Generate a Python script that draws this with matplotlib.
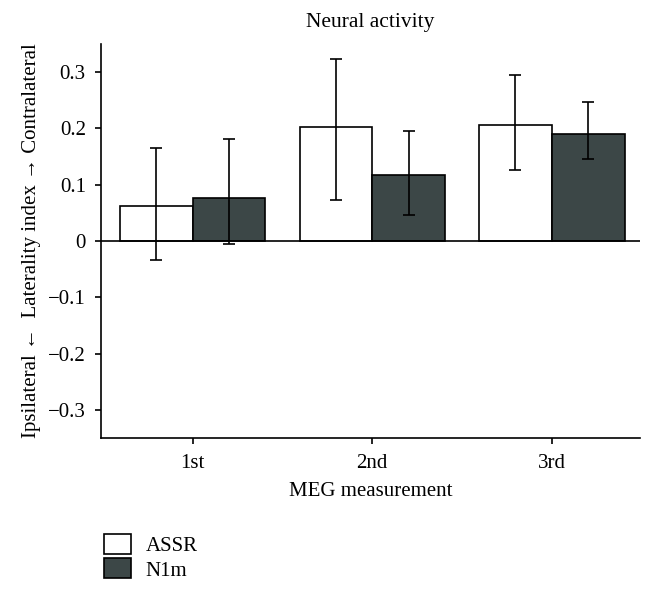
import numpy as np
import matplotlib
matplotlib.use("Agg")
import matplotlib.pyplot as plt

categories = ["1st", "2nd", "3rd"]
assr = [0.062, 0.202, 0.206]
assr_lo = [-0.033, 0.073, 0.127]
assr_hi = [0.165, 0.323, 0.295]
n1m = [0.076, 0.118, 0.190]
n1m_lo = [-0.005, 0.047, 0.145]
n1m_hi = [0.181, 0.196, 0.247]

plt.rcParams['font.family'] = ['Liberation Serif', 'DejaVu Serif']
plt.rcParams['font.size'] = 15

fig = plt.figure(figsize=(6.61, 5.93), dpi=100)
ax = fig.add_axes([0.153, 0.261, 0.815, 0.665])

x = np.arange(len(categories))
w = 0.405
dark = '#3c4747'

a = np.array(assr)
n = np.array(n1m)
ax.bar(x - w/2, a, w, color='white', edgecolor='black', linewidth=1.2, label='ASSR', zorder=2)
ax.bar(x + w/2, n, w, color=dark, edgecolor='black', linewidth=1.2, label='N1m', zorder=2)
ax.errorbar(x - w/2, a, yerr=[a - np.array(assr_lo), np.array(assr_hi) - a],
            fmt='none', ecolor='black', elinewidth=1.2, capsize=4, capthick=1.2, zorder=3)
ax.errorbar(x + w/2, n, yerr=[n - np.array(n1m_lo), np.array(n1m_hi) - n],
            fmt='none', ecolor='black', elinewidth=1.2, capsize=4, capthick=1.2, zorder=3)

ax.axhline(0, color='black', linewidth=1.2, zorder=4)

ax.set_xlim(-0.51, 2.49)
ax.set_ylim(-0.35, 0.35)
ax.set_yticks([-0.3, -0.2, -0.1, 0, 0.1, 0.2, 0.3])
ax.set_yticklabels(['\u22120.3', '\u22120.2', '\u22120.1', '0', '0.1', '0.2', '0.3'])
ax.set_xticks(x)
ax.set_xticklabels(categories)
ax.tick_params(direction='out', length=4, width=1.2, pad=7)

for s in ['top', 'right']:
    ax.spines[s].set_visible(False)
for s in ['left', 'bottom']:
    ax.spines[s].set_linewidth(1.2)

ax.set_title('Neural activity', fontsize=15.5, pad=12)
ax.set_xlabel('MEG measurement', labelpad=7)
ax.set_ylabel('Ipsilateral \u2190  Laterality index \u2192 Contralateral', labelpad=5)

fig.legend(loc='upper left', bbox_to_anchor=(0.145, 0.113), frameon=False,
           handlelength=1.3, handleheight=1.1, labelspacing=0.1, handletextpad=0.7,
           borderaxespad=0)

fig.savefig('out.png', dpi=100)
